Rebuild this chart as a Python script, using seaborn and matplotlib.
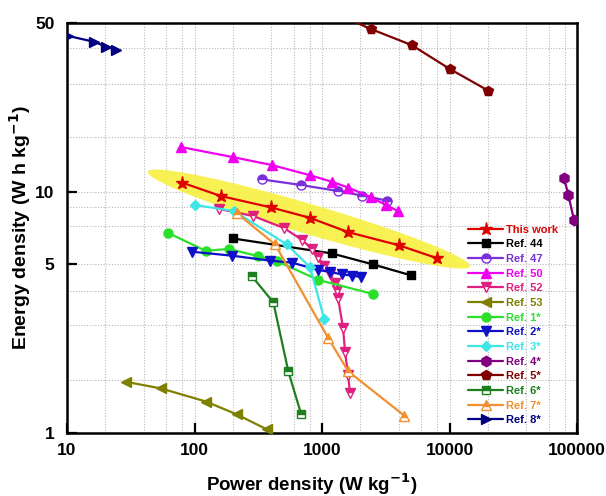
import numpy as np
import pandas as pd
import matplotlib
matplotlib.use("Agg")
import matplotlib.pyplot as plt
import seaborn as sns
from matplotlib.ticker import FixedLocator, NullFormatter

# ---- data ----
this_x = [80, 160, 400, 800, 1600, 4000, 8000]
this_y = [10.9, 9.6, 8.6, 7.8, 6.8, 6.0, 5.3]

ref44_x = [200, 1190, 2500, 5000]
ref44_y = [6.4, 5.55, 5.0, 4.5]

ref47_x = [336, 681, 1330, 2070, 3250]
ref47_y = [11.25, 10.66, 10.07, 9.63, 9.18]

ref50_x = [79, 201, 403, 805, 1190, 1607, 2400, 3180, 3960]
ref50_y = [15.3, 13.9, 12.9, 11.7, 11.0, 10.4, 9.5, 8.8, 8.3]

ref52_x = [156, 288, 503, 697, 835, 930, 1037, 1156, 1265, 1312, 1335, 1462, 1515, 1600, 1658]
ref52_y = [8.48, 7.93, 7.07, 6.31, 5.79, 5.36, 4.92, 4.56, 4.18, 3.91, 3.63, 2.72, 2.17, 1.74, 1.465]

ref53_x = [29, 54.6, 123, 214, 368]
ref53_y = [1.63, 1.53, 1.35, 1.195, 1.036]

ref1_x = [61.6, 122, 186, 313, 441, 935, 2500]
ref1_y = [6.76, 5.69, 5.79, 5.41, 5.16, 4.31, 3.77]

ref2_x = [95, 197, 391, 582, 930, 1156, 1435, 1718, 2023]
ref2_y = [5.64, 5.43, 5.18, 5.08, 4.74, 4.65, 4.54, 4.49, 4.43]

ref3_x = [100, 204, 528, 805, 1042]
ref3_y = [8.81, 8.32, 6.05, 4.87, 2.96]

ref4_x = [79100, 85500, 94700]
ref4_y = [11.4, 9.69, 7.63]

ref5_x = [1160, 2420, 5050, 10100, 20200]
ref5_y = [56, 47.2, 40.5, 32.2, 26.2]

ref6_x = [281, 415, 544, 685]
ref6_y = [4.47, 3.48, 1.80, 1.20]

ref7_x = [214, 428, 1120, 1607, 4420]
ref7_y = [8.16, 6.05, 2.47, 1.80, 1.18]

ref8_x = [10.2, 16.3, 20.2, 24.1]
ref8_y = [44.2, 41.8, 39.9, 38.7]

# yellow highlight band around "This work" (ends, in data units)
band_x = [43, 14500]
band_y = [12.1, 4.9]

y_major = [1, 5, 10, 50]
y_minor = [1.66, 2.79, 3.87, 7.2, 8.6, 16.9, 28, 39.5]
x_major = [10, 100, 1000, 10000, 100000]
x_minor = [m * d for d in [10, 100, 1000, 10000] for m in (2, 4, 6, 8)]

# label, x, y, colour, marker, half-filled
series = [
    ("This work", this_x, this_y, "#E00000", "*", False),
    ("Ref. 44", ref44_x, ref44_y, "#000000", "s", False),
    ("Ref. 47", ref47_x, ref47_y, "#7B2FD8", "o", True),
    ("Ref. 50", ref50_x, ref50_y, "#F000F0", "^", False),
    ("Ref. 52", ref52_x, ref52_y, "#E0207F", "v", True),
    ("Ref. 53", ref53_x, ref53_y, "#7F7F00", "<", False),
    ("Ref. 1*", ref1_x, ref1_y, "#2BE02B", "o", False),
    ("Ref. 2*", ref2_x, ref2_y, "#1010C8", "v", False),
    ("Ref. 3*", ref3_x, ref3_y, "#3CE6E6", "D", False),
    ("Ref. 4*", ref4_x, ref4_y, "#800080", "h", False),
    ("Ref. 5*", ref5_x, ref5_y, "#800000", "p", False),
    ("Ref. 6*", ref6_x, ref6_y, "#1E7F1E", "s", True),
    ("Ref. 7*", ref7_x, ref7_y, "#F09030", "^", True),
    ("Ref. 8*", ref8_x, ref8_y, "#000080", ">", False),
]
msize = {"*": 9.5, "s": 6, "o": 6.5, "^": 7, "v": 7, "<": 7, "D": 5.5, "h": 7.5, "p": 7.5, ">": 7}

sns.set_theme(style="white")
plt.rcParams["font.family"] = ["Liberation Sans", "DejaVu Sans"]
plt.rcParams["font.weight"] = "bold"
plt.rcParams["mathtext.default"] = "bf"
for k in ["text.color", "axes.labelcolor", "xtick.color", "ytick.color"]:
    plt.rcParams[k] = "black"

fig = plt.figure(figsize=(6.06, 4.96), dpi=100)
ax = fig.add_axes([0.1106, 0.127, 0.8416, 0.8266])
ax.set_xscale("log")
ax.set_yscale("log")
ax.set_xlim(10, 100000)
ax.set_ylim(1, 50)

# grid
for v in x_major[1:-1] + x_minor:
    ax.axvline(v, color="#B8B8B8", lw=0.8, ls=(0, (1, 1.5)), zorder=0)
for v in y_major[1:-1] + y_minor:
    ax.axhline(v, color="#B8B8B8", lw=0.8, ls=(0, (1, 1.5)), zorder=0)

# yellow band as ellipse built in display space
p0 = ax.transData.transform((band_x[0], band_y[0]))
p1 = ax.transData.transform((band_x[1], band_y[1]))
c = (p0 + p1) / 2
u = (p1 - p0) / 2
a = np.hypot(*u)
u = u / a
v = np.array([-u[1], u[0]])
t = np.linspace(0, 2 * np.pi, 300)
pts = c + np.outer(a * np.cos(t), u) + np.outer(15 * np.sin(t), v)
dpts = ax.transData.inverted().transform(pts)
ax.fill(dpts[:, 0], dpts[:, 1], color="#F8F040", alpha=0.9, lw=0, zorder=1)

handles = []
for label, xs, ys, col, mk, half in series:
    df = pd.DataFrame({"x": xs, "y": ys})
    kw = dict(marker=mk, markersize=msize[mk], markeredgecolor=col, markeredgewidth=1.0,
              markerfacecolor=col)
    if half:
        kw.update(fillstyle="top", markerfacecoloralt="white")
    sns.lineplot(data=df, x="x", y="y", ax=ax, color=col, lw=1.6, sort=False,
                 estimator=None, zorder=3, **kw)
    handles.append(ax.lines[-1])

ax.set_xlim(10, 100000)
ax.set_ylim(1, 50)

ax.xaxis.set_major_locator(FixedLocator(x_major))
ax.xaxis.set_minor_locator(FixedLocator(x_minor))
ax.xaxis.set_minor_formatter(NullFormatter())
ax.set_xticklabels([str(v) for v in x_major])
ax.yaxis.set_major_locator(FixedLocator(y_major))
ax.yaxis.set_minor_locator(FixedLocator(y_minor))
ax.yaxis.set_minor_formatter(NullFormatter())
ax.set_yticklabels([str(v) for v in y_major])

ax.tick_params(which="major", direction="in", length=7, width=1.6, labelsize=12.5)
ax.tick_params(axis="x", which="major", pad=7)
ax.tick_params(axis="y", which="major", pad=9)
ax.tick_params(which="minor", direction="in", length=4, width=1.3)
ax.tick_params(left=True, bottom=True, top=False, right=False)
for s in ax.spines.values():
    s.set_linewidth(1.8)
    s.set_color("black")

ax.set_xlabel("Power density (W kg$^{-1}$)", fontsize=13.5, fontweight="bold")
ax.set_ylabel("Energy density (W h kg$^{-1}$)", fontsize=14, fontweight="bold")
ax.xaxis.set_label_coords(0.48, -0.093)
ax.yaxis.set_label_coords(-0.066, 0.5)

leg = ax.legend(handles, [s[0] for s in series], loc="upper left", bbox_to_anchor=(0.775, 0.522),
                frameon=False, handlelength=3.2, handletextpad=0.25,
                labelspacing=0.42, borderpad=0, numpoints=1,
                prop={"weight": "bold", "size": 8})
for txt, s in zip(leg.get_texts(), series):
    txt.set_color(s[3])

fig.savefig("out.png", dpi=100, facecolor="white")
